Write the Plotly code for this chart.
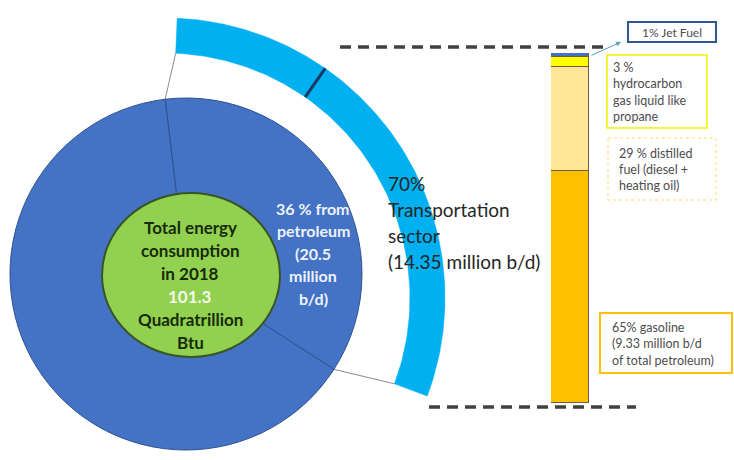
import numpy as np
import plotly.graph_objects as go

W, H = 734, 460

# --- data -------------------------------------------------------------
energy_labels = ["Petroleum", "Other sources"]
energy_share = [36, 64]                 # % of total US energy use, 2018
total_energy_quads = 101.3
petroleum_mbd = 20.5

sector_labels = ["Other sectors", "Transportation"]
sector_share = [30, 70]                 # % of petroleum use
transport_mbd = 14.35

fuel_labels = ["Gasoline", "Distilled fuel", "Hydrocarbon gas liquids", "Jet fuel"]
fuel_share = [65, 29, 3, 1]             # % of transportation petroleum
gasoline_mbd = 9.33
fuel_colors = ["#FFC000", "#FFE699", "#FFFF00", "#4472C4"]

# --- layout constants (pixel frame, y grows downward) -----------------
DISC_C, DISC_R = (186, 274), 176
PIE_ROT = -6.8
ARC_C, ARC_RIN, ARC_ROUT = (165, 298), 245, 280
ARC_START, ARC_END = 87.5, -20.5        # degrees, counter-clockwise from +x
BAR_X0, BAR_X1, BAR_TOP, BAR_BOT = 551, 589, 53, 403

BLUE = "#4472C4"
SKY = "#00B0F0"
FONT = "Lato"

fig = go.Figure()


def pt(c, r, deg):
    a = np.radians(deg)
    return c[0] + r * np.cos(a), c[1] - r * np.sin(a)


# --- outer arc: petroleum split by sector -----------------------------
span = ARC_START - ARC_END
bounds = ARC_START - span * np.cumsum([0] + sector_share) / sum(sector_share)
for i, lab in enumerate(sector_labels):
    th = np.linspace(bounds[i], bounds[i + 1], 80)
    xo, yo = pt(ARC_C, ARC_ROUT, th)
    xi, yi = pt(ARC_C, ARC_RIN, th[::-1])
    fig.add_trace(go.Scatter(
        x=np.concatenate([xo, xi, xo[:1]]), y=np.concatenate([yo, yi, yo[:1]]),
        mode="lines", fill="toself", fillcolor=SKY,
        line=dict(color=SKY, width=0.5), name=lab,
        hoverinfo="skip", showlegend=False))

# divider between sectors
for b in bounds[1:-1]:
    x0, y0 = pt(ARC_C, ARC_RIN, b)
    x1, y1 = pt(ARC_C, ARC_ROUT, b)
    fig.add_trace(go.Scatter(x=[x0, x1], y=[y0, y1], mode="lines",
                             line=dict(color="#1F3864", width=3),
                             hoverinfo="skip", showlegend=False))

# connectors from petroleum wedge edges to arc ends
wedge_clock = [PIE_ROT, PIE_ROT + 360 * energy_share[0] / sum(energy_share)]
for clock, arc_deg in zip(wedge_clock, [ARC_START, ARC_END]):
    x0, y0 = pt(DISC_C, DISC_R, 90 - clock)
    x1, y1 = pt(ARC_C, ARC_RIN, arc_deg)
    fig.add_trace(go.Scatter(x=[x0, x1], y=[y0, y1], mode="lines",
                             line=dict(color="#8C8C8C", width=1),
                             hoverinfo="skip", showlegend=False))

# dashed guides from the transportation arc to the fuel bar
dash = dict(color="#404040", width=3.5, dash="11px,7px")
fig.add_trace(go.Scatter(x=[340, 610], y=[47, 47], mode="lines", line=dash,
                         hoverinfo="skip", showlegend=False))
fig.add_trace(go.Scatter(x=[429, 636], y=[407, 407], mode="lines", line=dash,
                         hoverinfo="skip", showlegend=False))

# --- stacked fuel bar -------------------------------------------------
for lab, v, c in zip(fuel_labels, fuel_share, fuel_colors):
    fig.add_trace(go.Bar(x=[0], y=[v], width=1, name=lab, xaxis="x2", yaxis="y2",
                         marker=dict(color=c, line=dict(color="#6B5E3C", width=1.5)),
                         hoverinfo="skip", showlegend=False))

# --- energy pie -------------------------------------------------------
fig.add_trace(go.Pie(
    labels=energy_labels, values=energy_share, sort=False,
    direction="clockwise", rotation=PIE_ROT,
    marker=dict(colors=[BLUE, BLUE], line=dict(color="#2F528F", width=1)),
    textinfo="none", hoverinfo="skip", showlegend=False,
    domain=dict(x=[(DISC_C[0] - DISC_R) / W, (DISC_C[0] + DISC_R) / W],
                y=[1 - (DISC_C[1] + DISC_R) / H, 1 - (DISC_C[1] - DISC_R) / H])))

shapes = [
    # centre disc
    dict(type="circle", xref="x", yref="y", x0=102, x1=280, y0=193, y1=357,
         fillcolor="#92D050", line=dict(color="#375623", width=2)),
    # label boxes
    dict(type="rect", xref="x", yref="y", x0=628, x1=716, y0=22, y1=42,
         fillcolor="white", line=dict(color="#2F5597", width=2)),
    dict(type="rect", xref="x", yref="y", x0=607, x1=707, y0=55, y1=128,
         fillcolor="white", line=dict(color="#F2F200", width=1.5)),
    dict(type="rect", xref="x", yref="y", x0=608, x1=716, y0=138, y1=200,
         fillcolor="white", line=dict(color="#FFE699", width=1.5, dash="dot")),
    dict(type="rect", xref="x", yref="y", x0=600, x1=732, y0=313, y1=373,
         fillcolor="white", line=dict(color="#FFC000", width=2)),
]

annotations = []


def add_lines(x, y0, dy, lines, size, color, bold=False, xanchor="center"):
    for k, t in enumerate(lines):
        if isinstance(t, tuple):
            t, col = t
        else:
            col = color
        annotations.append(dict(
            x=x, y=y0 + k * dy, xref="x", yref="y", showarrow=False,
            text=f"<b>{t}</b>" if bold else t, xanchor=xanchor, yanchor="middle",
            font=dict(family=FONT, size=size, color=col)))


add_lines(190, 227, 23, ["Total energy", "consumption", "in 2018",
                         (f"{total_energy_quads}", "#F4F8EC"),
                         "Quadratrillion", "Btu"], 17, "#172A0A", bold=True)
add_lines(313, 208, 22.5, [f"{energy_share[0]} % from", "petroleum",
                           f"({petroleum_mbd}", "million", "b/d)"],
          16, "#EEF2FA", bold=True)
add_lines(386, 183, 26, [f"{sector_share[1]}%", "Transportation", "sector",
                         f"({transport_mbd} million b/d)"],
          19, "#262626", xanchor="left")

grey = "#4D4D4D"
add_lines(672, 32, 0, [f"{fuel_share[3]}% Jet Fuel"], 12, grey)
add_lines(611, 67, 16.5, [f"{fuel_share[2]} %", "hydrocarbon", "gas liquid like",
                          "propane"], 12.5, grey, xanchor="left")
add_lines(617, 153, 16, [f"{fuel_share[1]} % distilled", "fuel (diesel +",
                         "heating oil)"], 12.5, grey, xanchor="left")
add_lines(610, 327, 16.5, [f"{fuel_share[0]}% gasoline",
                           f"({gasoline_mbd} million b/d",
                           "of total petroleum)"], 12.5, grey, xanchor="left")

# pointer to the jet fuel box
annotations.append(dict(x=621, y=42, ax=590, ay=56, xref="x", yref="y",
                        axref="x", ayref="y", text="", showarrow=True,
                        arrowhead=2, arrowsize=1, arrowwidth=1,
                        arrowcolor="#5BA3B8"))

fig.update_layout(
    width=W, height=H, margin=dict(l=0, r=0, t=0, b=0),
    paper_bgcolor="white", plot_bgcolor="rgba(0,0,0,0)",
    barmode="stack", bargap=0,
    xaxis=dict(range=[0, W], domain=[0, 1], visible=False, fixedrange=True),
    yaxis=dict(range=[H, 0], domain=[0, 1], visible=False, fixedrange=True),
    xaxis2=dict(range=[-0.5, 0.5], domain=[BAR_X0 / W, BAR_X1 / W],
                anchor="y2", visible=False),
    yaxis2=dict(range=[0, sum(fuel_share)],
                domain=[1 - BAR_BOT / H, 1 - BAR_TOP / H],
                anchor="x2", visible=False),
    shapes=shapes, annotations=annotations,
)

fig.write_html("out.html")
